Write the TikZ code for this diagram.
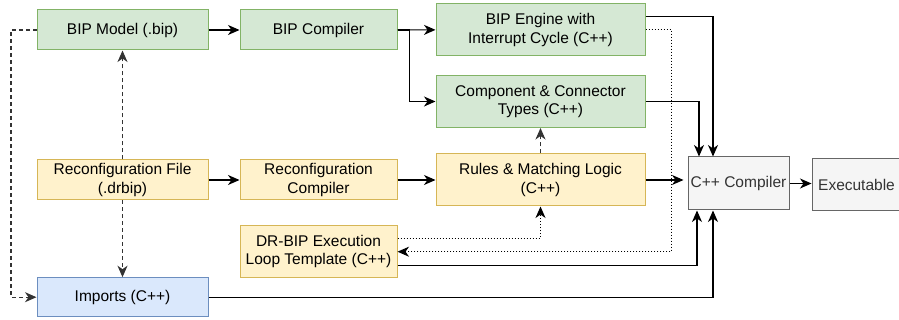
\documentclass[tikz,border=0pt]{standalone}
\usepackage{fontspec}
\setmainfont{Liberation Sans}
\usetikzlibrary{arrows.meta}

\definecolor{greenfill}{HTML}{D5E8D4}
\definecolor{greenline}{HTML}{82B366}
\definecolor{yellowfill}{HTML}{FFF2CC}
\definecolor{yellowline}{HTML}{D6B656}
\definecolor{bluefill}{HTML}{DAE8FC}
\definecolor{blueline}{HTML}{6C8EBF}
\definecolor{grayfill}{HTML}{F5F5F5}
\definecolor{grayline}{HTML}{666666}
\definecolor{graytext}{HTML}{333333}

\begin{document}
\begin{tikzpicture}[
    x=1pt, y=-1pt,
    font=\fontsize{15.5}{18.5}\selectfont,
    line width=1.1pt,
    >={Stealth[length=11.5pt, width=10pt, inset=3.5pt]},
    box/.style = {shape=rectangle, draw, line width=1pt, align=center, inner sep=2pt},
    bip/.style = {box, fill=greenfill, draw=greenline},
    reconf/.style = {box, fill=yellowfill, draw=yellowline},
    cpp/.style = {box, fill=grayfill, draw=grayline, text=graytext},
    imp/.style = {box, fill=bluefill, draw=blueline},
    dash link/.style = {dash pattern=on 4pt off 3pt, draw=black!80},
    dot link/.style = {dash pattern=on 1pt off 2pt}
    ]
    \useasboundingbox (0,0) rectangle (899,320);

    % BIP side
    \node[bip, minimum width=171pt, minimum height=40pt] (model)  at (122.5, 30)    {BIP Model (.bip)};
    \node[bip, minimum width=157pt, minimum height=40pt] (bipc)   at (318.5, 30)    {BIP Compiler};
    \node[bip, minimum width=209pt, minimum height=52pt] (engine) at (540.5, 29.75) {BIP Engine with\\Interrupt Cycle (C++)};
    \node[bip, minimum width=209pt, minimum height=52pt] (types)  at (540.5, 101.5) {Component \& Connector\\Types (C++)};

    % Reconfiguration side
    \node[reconf, minimum width=171pt, minimum height=40pt] (recf)  at (122.5, 180)   {Reconfiguration File\\(.drbip)};
    \node[reconf, minimum width=157pt, minimum height=40pt] (recc)  at (318.5, 180)   {Reconfiguration\\Compiler};
    \node[reconf, minimum width=209pt, minimum height=52pt] (rules) at (540.5, 180)   {Rules \& Matching Logic\\(C++)};
    \node[reconf, minimum width=157pt, minimum height=52pt] (loop)  at (318.5, 251.7) {DR-BIP Execution\\Loop Template (C++)};
    \node[imp, minimum width=171pt, minimum height=39pt]    (imports) at (122.5, 297.2) {Imports (C++)};

    % Build
    \node[cpp, minimum width=101pt, minimum height=53pt] (cppc) at (738.5, 183.5) {C++ Compiler};
    \node[cpp, minimum width=89pt,  minimum height=52pt] (exe)  at (856.5, 184.5) {Executable};

    % Compilation flow
    \path [->] (model) edge (bipc);
    \path [->] (bipc)  edge (engine);
    \draw [->] (bipc.east) -- ++(12,0) |- (types.west);
    \path [->] (recf)  edge (recc);
    \path [->] (recc)  edge (rules);
    \draw [->, shorten >=4pt] (rules.east) -- (rules.east -| cppc.west);
    \draw [->] (cppc.east) -- (cppc.east -| exe.west);

    % Generated code into the C++ compiler
    \draw [->] (engine.east) ++(0,-13.5) -| ([xshift=-25.5pt]cppc.north);
    \draw [->] (types.east) -| ([xshift=-39.5pt]cppc.north);
    \draw [->] (loop.east) ++(0,13.5) -| ([xshift=-41.5pt]cppc.south);
    \draw [->] (imports.east) -| ([xshift=-25.5pt]cppc.south);

    % Dependencies
    \draw [->, dash link] (recf.north) -- (model.south);
    \draw [->, dash link] (recf.south) -- (imports.north);
    \draw [->, dash link] (rules.north) -- (types.south);
    \draw [->, dash link] (model.west) -- ++(-25.5,0) |- (imports.west);
    \draw [->, dot link] (engine.east) -- ++(26,0) |- (loop.east);
    \draw [->, dot link] (loop.east) ++(0,-13.5) -| (rules.south);

\end{tikzpicture}
\end{document}
